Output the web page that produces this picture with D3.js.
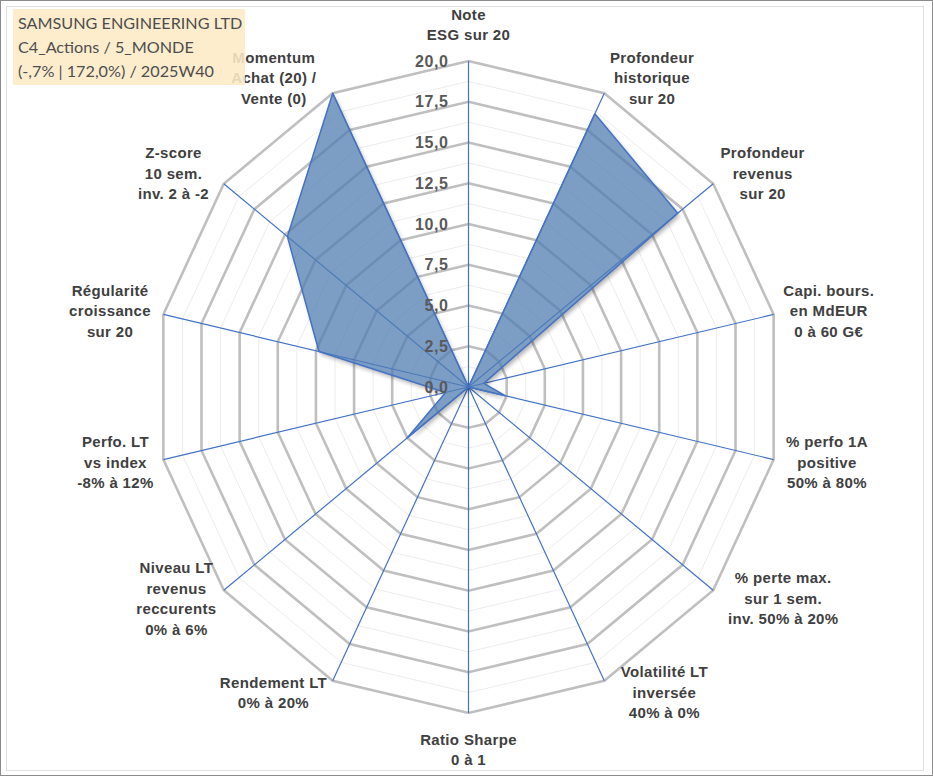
<!DOCTYPE html>
<html>
<head>
<meta charset="utf-8">
<script src="https://cdn.jsdelivr.net/npm/d3@7"></script>
<style>
  body { margin: 0; background: #fff; }
  svg { display: block; }
</style>
</head>
<body>
<script>
const width = 933;
const height = 776;

// chart data
const categories = [
  "Note\nESG sur 20",
  "Profondeur\nhistorique\nsur 20",
  "Profondeur\nrevenus\nsur 20",
  "Capi. bours.\nen MdEUR\n0 à 60 G€",
  "% perfo 1A\npositive\n50% à 80%",
  "% perte max.\nsur 1 sem.\ninv. 50% à 20%",
  "Volatilité LT\ninversée\n40% à 0%",
  "Ratio Sharpe\n0 à 1",
  "Rendement LT\n0% à 20%",
  "Niveau LT\nrevenus\nreccurents\n0% à 6%",
  "Perfo. LT\nvs index\n-8% à 12%",
  "Régularité\ncroissance\nsur 20",
  "Z-score\n10 sem.\ninv. 2 à -2",
  "Momentum\nAchat (20) /\nVente (0)"
];
const values = [0, 18.6, 17.1, 1.0, 2.4, 0, 0, 0, 0, 5.0, 1.5, 9.8, 14.8, 20];
const tickValues = [0, 2.5, 5, 7.5, 10, 12.5, 15, 17.5, 20];
const minorTicks = [1.25, 3.75, 6.25, 8.75, 11.25, 13.75, 16.25, 18.75];
const titleLines = ["SAMSUNG ENGINEERING LTD", "C4_Actions / 5_MONDE", "(-,7% | 172,0%) / 2025W40"];

const cx = 468.5, cy = 387;
const n = categories.length;

// the original picture is slightly squeezed horizontally
const rX = d3.scaleLinear().domain([0, 20]).range([0, 313]);
const rY = d3.scaleLinear().domain([0, 20]).range([0, 326]);
const angle = d3.scaleLinear().domain([0, n]).range([0, 2 * Math.PI]);

function pt(i, v) {
  const a = angle(i);
  return [cx + rX(v) * Math.sin(a), cy - rY(v) * Math.cos(a)];
}
function ring(v) {
  return d3.range(n).map(i => pt(i, v));
}
const line = d3.line().curve(d3.curveLinearClosed);
const fmt = v => d3.format(".1f")(v).replace(".", ",");

const svg = d3.select("body").append("svg")
  .attr("width", width)
  .attr("height", height);

// frame
svg.append("rect")
  .attr("x", 0.5).attr("y", 0.5)
  .attr("width", width - 1).attr("height", height - 1)
  .attr("fill", "#fff").attr("stroke", "#8c8c8c");
svg.append("rect")
  .attr("x", 6.5).attr("y", 6.5)
  .attr("width", 917).attr("height", 764)
  .attr("fill", "none").attr("stroke", "#e0e0e0");

const defs = svg.append("defs");
defs.append("filter").attr("id", "blur")
  .attr("x", "-10%").attr("y", "-10%").attr("width", "120%").attr("height", "120%")
  .append("feGaussianBlur").attr("stdDeviation", 2);
const mask = defs.append("mask").attr("id", "outside");
mask.append("rect").attr("width", width).attr("height", height).attr("fill", "#fff");

// grid
const grid = svg.append("g");
grid.selectAll("path.minor")
  .data(minorTicks)
  .join("path")
  .attr("class", "minor")
  .attr("d", d => line(ring(d)))
  .attr("fill", "none")
  .attr("stroke", "#ececec")
  .attr("stroke-width", 1);
grid.selectAll("path.major")
  .data(tickValues.filter(d => d > 0))
  .join("path")
  .attr("class", "major")
  .attr("d", d => line(ring(d)))
  .attr("fill", "none")
  .attr("stroke", "#bfbfbf")
  .attr("stroke-width", 2.6);

// spokes
svg.append("g").selectAll("line")
  .data(d3.range(n))
  .join("line")
  .attr("x1", cx).attr("y1", cy)
  .attr("x2", i => pt(i, 20)[0])
  .attr("y2", i => pt(i, 20)[1])
  .attr("stroke", "#4472c4")
  .attr("stroke-width", 1.2);

// series
const shape = line(values.map((v, i) => pt(i, v)));
mask.append("path").attr("d", shape).attr("fill", "#000");

svg.append("g").attr("mask", "url(#outside)")
  .append("path")
  .attr("d", shape)
  .attr("transform", "translate(2,3)")
  .attr("fill", "#000")
  .attr("opacity", 0.3)
  .attr("filter", "url(#blur)");

svg.append("path")
  .attr("d", shape)
  .attr("fill", "rgb(80,125,178)")
  .attr("fill-opacity", 0.75)
  .attr("stroke", "#4472c4")
  .attr("stroke-width", 1.5)
  .attr("stroke-linejoin", "round");

// radial tick labels
svg.append("g").selectAll("text")
  .data(tickValues)
  .join("text")
  .attr("x", cx - 20)
  .attr("y", d => cy - rY(d))
  .attr("text-anchor", "end")
  .attr("dominant-baseline", "central")
  .attr("font-family", "'Liberation Sans', Arial, sans-serif")
  .attr("font-weight", "bold")
  .attr("font-size", 16)
  .attr("letter-spacing", 0.6)
  .attr("fill", "#595959")
  .text(fmt);

// category labels
const lh = 20.5;
const labels = svg.append("g")
  .attr("font-family", "'Liberation Sans', Arial, sans-serif")
  .attr("font-weight", "bold")
  .attr("font-size", 15)
  .attr("letter-spacing", 0.35)
  .attr("fill", "#404040");

categories.forEach((c, i) => {
  const rows = c.split("\n");
  const a = angle(i);
  const s = Math.sin(a), co = Math.cos(a);
  const [vx, vy] = pt(i, 20);
  const g = labels.append("g");
  const texts = g.selectAll("text")
    .data(rows)
    .join("text")
    .attr("text-anchor", "middle")
    .attr("dominant-baseline", "central")
    .text(d => d);
  const w = d3.max(texts.nodes(), t => t.getComputedTextLength());
  const h = rows.length * lh;
  let lx, ly;
  if (Math.abs(s) < 0.01) {
    lx = vx;
    ly = vy - co * (h / 2 + 16);
  } else {
    lx = vx + Math.sign(s) * (w / 2 + 11) - 6 * co;
    ly = vy - co * (co > 0 ? 17 : 13);
  }
  texts.attr("x", lx).attr("y", (d, k) => ly - h / 2 + lh * (k + 0.5));
});

// title box, drawn over the labels like the original
const title = svg.append("g");
title.append("rect")
  .attr("x", 13).attr("y", 9)
  .attr("width", 232).attr("height", 76)
  .attr("fill", "#fdebc6")
  .attr("fill-opacity", 0.88);
title.selectAll("text")
  .data(titleLines)
  .join("text")
  .attr("x", 18)
  .attr("y", (d, k) => 29 + k * 24)
  .attr("font-family", "Lato, 'Open Sans', sans-serif")
  .attr("font-size", 16.2)
  .attr("fill", "#4d4d4d")
  .text(d => d);
</script>
</body>
</html>
